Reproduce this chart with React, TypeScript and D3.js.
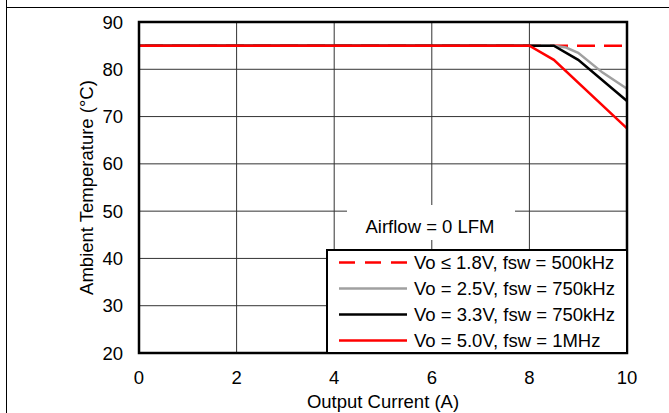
import { useEffect, useRef } from 'react';
import * as d3 from 'd3';

const X_TICKS = [0, 2, 4, 6, 8, 10];
const Y_TICKS = [20, 30, 40, 50, 60, 70, 80, 90];

// derating curves
const VO18_X = [0, 10];
const VO18_Y = [85, 85];
const VO25_X = [0, 8.5, 8.75, 9, 9.5, 10];
const VO25_Y = [85, 85, 84.6, 83.5, 79.3, 75.9];
const VO33_X = [0, 8.5, 9, 10];
const VO33_Y = [85, 85, 82, 73.3];
const VO50_X = [0, 8, 8.5, 10];
const VO50_Y = [85, 85, 82, 67.5];

const SERIES = [
  { label: 'Vo ≤ 1.8V, fsw = 500kHz', xs: VO18_X, ys: VO18_Y, color: '#ff0000', dash: '18,9' },
  { label: 'Vo = 2.5V, fsw = 750kHz', xs: VO25_X, ys: VO25_Y, color: '#a0a0a0', dash: null },
  { label: 'Vo = 3.3V, fsw = 750kHz', xs: VO33_X, ys: VO33_Y, color: '#000000', dash: null },
  { label: 'Vo = 5.0V, fsw = 1MHz', xs: VO50_X, ys: VO50_Y, color: '#ff0000', dash: null },
];

const FONT = '"Liberation Sans", Arial, Helvetica, sans-serif';
const FS = 18.5;

export default function App() {
  const svgRef = useRef<SVGSVGElement>(null);

  useEffect(() => {
    const svgEl = svgRef.current;
    if (!svgEl) return;
    const W = 669, H = 413;
    const left = 139, right = 627, top = 22, bottom = 353;

    const x = d3.scaleLinear().domain([0, 10]).range([left, right]);
    const y = d3.scaleLinear().domain([20, 90]).range([bottom, top]);

    const svg = d3.select(svgEl).attr('viewBox', `0 0 ${W} ${H}`);
    svg.selectAll('*').remove();
    svg.append('rect').attr('width', W).attr('height', H).attr('fill', '#fff');

    // page frame
    svg.append('line').attr('x1', 6.5).attr('x2', 6.5).attr('y1', 0).attr('y2', H)
      .attr('stroke', '#000').attr('stroke-width', 1);
    svg.append('line').attr('x1', 6).attr('x2', W).attr('y1', 7.5).attr('y2', 7.5)
      .attr('stroke', '#000').attr('stroke-width', 1);

    // grid
    const g = svg.append('g').attr('font-family', FONT);
    X_TICKS.slice(1, -1).forEach((t) => {
      g.append('line').attr('x1', x(t)).attr('x2', x(t)).attr('y1', top).attr('y2', bottom)
        .attr('stroke', '#333').attr('stroke-width', 1);
    });
    Y_TICKS.slice(1, -1).forEach((t) => {
      g.append('line').attr('x1', left).attr('x2', right).attr('y1', y(t)).attr('y2', y(t))
        .attr('stroke', '#333').attr('stroke-width', 1);
    });

    // tick labels
    X_TICKS.forEach((t) => {
      g.append('text').attr('x', x(t)).attr('y', bottom + 31).attr('text-anchor', 'middle')
        .attr('font-size', FS).attr('fill', '#000').text(t);
    });
    Y_TICKS.forEach((t) => {
      g.append('text').attr('x', left - 16).attr('y', y(t) + 6.5).attr('text-anchor', 'end')
        .attr('font-size', FS).attr('fill', '#000').text(t);
    });

    // axis titles
    g.append('text').attr('x', (left + right) / 2).attr('y', 408).attr('text-anchor', 'middle')
      .attr('font-size', FS).attr('fill', '#000').text('Output Current (A)');
    g.append('text').attr('transform', `translate(93,${(top + bottom) / 2}) rotate(-90)`)
      .attr('text-anchor', 'middle').attr('font-size', FS).attr('fill', '#000')
      .text('Ambient Temperature (°C)');

    // airflow note
    g.append('rect').attr('x', 347).attr('y', 205).attr('width', 168).attr('height', 35).attr('fill', '#fff');
    g.append('text').attr('x', 430).attr('y', 233).attr('text-anchor', 'middle')
      .attr('font-size', FS).attr('fill', '#000').text('Airflow = 0 LFM');

    // curves
    const line = d3.line<[number, number]>().x((d) => x(d[0])).y((d) => y(d[1]));
    SERIES.forEach((s) => {
      const pts = s.xs.map((v, i) => [v, s.ys[i]] as [number, number]);
      const p = g.append('path').attr('d', line(pts)).attr('fill', 'none')
        .attr('stroke', s.color).attr('stroke-width', 2.5);
      if (s.dash) p.attr('stroke-dasharray', s.dash).attr('stroke-dashoffset', -6);
    });

    // plot frame
    g.append('rect').attr('x', left).attr('y', top).attr('width', right - left).attr('height', bottom - top)
      .attr('fill', 'none').attr('stroke', '#000').attr('stroke-width', 2.5);

    // legend
    const lx = 327, ly = 250;
    g.append('rect').attr('x', lx).attr('y', ly).attr('width', right - lx).attr('height', bottom - ly)
      .attr('fill', '#fff').attr('stroke', '#000').attr('stroke-width', 2);
    SERIES.forEach((s, i) => {
      const ry = 262.5 + i * 26;
      const l = g.append('line').attr('x1', 339).attr('x2', 407).attr('y1', ry).attr('y2', ry)
        .attr('stroke', s.color).attr('stroke-width', 2.5);
      if (s.dash) l.attr('stroke-dasharray', '16,10');
      g.append('text').attr('x', 414).attr('y', ry + 6.5).attr('font-size', FS).attr('fill', '#000').text(s.label);
    });
  }, []);

  return (
    <svg ref={svgRef} width={669} height={413}
      style={{ position: 'fixed', left: 0, top: 0, display: 'block' }} />
  );
}
